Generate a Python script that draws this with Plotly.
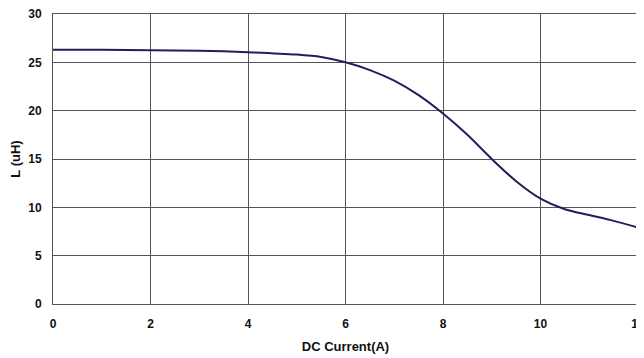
import plotly.graph_objects as go

# DC bias curve
current = [0, 1, 2, 3, 4, 5, 5.5, 6, 6.5, 7, 7.5, 8, 8.5, 9, 9.5, 10, 10.5, 11, 11.5, 12]
inductance = [26.3, 26.3, 26.25, 26.2, 26.05, 25.8, 25.55, 25.0, 24.2, 23.1, 21.6, 19.7,
              17.5, 15.0, 12.7, 10.9, 9.8, 9.2, 8.6, 7.9]

x_ticks = [0, 2, 4, 6, 8, 10, 12]
y_ticks = [0, 5, 10, 15, 20, 25, 30]

fig = go.Figure()
fig.add_scatter(x=current, y=inductance, mode="lines",
                line=dict(color="#1f1f5c", width=2, shape="spline", smoothing=0.8),
                showlegend=False)

# page body has an 8px margin, so the figure is sized to fit the window from (8, 8)
fnt = dict(family="Liberation Sans, Arial, sans-serif", size=12, color="#111111")
fig.update_layout(
    width=636, height=350,
    margin=dict(l=45, r=6, t=6, b=54),
    paper_bgcolor="white", plot_bgcolor="white",
    font=fnt,
)
fig.update_xaxes(range=[0, 12], tickvals=x_ticks, ticktext=[f"<b>{v}</b>" for v in x_ticks],
                 showgrid=True, gridcolor="#555555", gridwidth=1,
                 showline=True, linecolor="#555555", linewidth=1, mirror=True,
                 ticks="outside", ticklen=9, tickcolor="rgba(0,0,0,0)",
                 zeroline=False, automargin=False, ticklabeloverflow="allow",
                 title=dict(text="<b>DC Current(A)</b>", standoff=11, font=dict(size=13)))
fig.update_yaxes(range=[0, 30], tickvals=y_ticks, ticktext=[f"<b>{v}</b>" for v in y_ticks],
                 showgrid=True, gridcolor="#555555", gridwidth=1,
                 showline=True, linecolor="#555555", linewidth=1, mirror=True,
                 ticks="outside", ticklen=8, tickcolor="rgba(0,0,0,0)",
                 zeroline=False, automargin=False, ticklabeloverflow="allow",
                 title=dict(text="<b>L (uH)</b>", standoff=12, font=dict(size=13)))
fig.write_html("out.html")
